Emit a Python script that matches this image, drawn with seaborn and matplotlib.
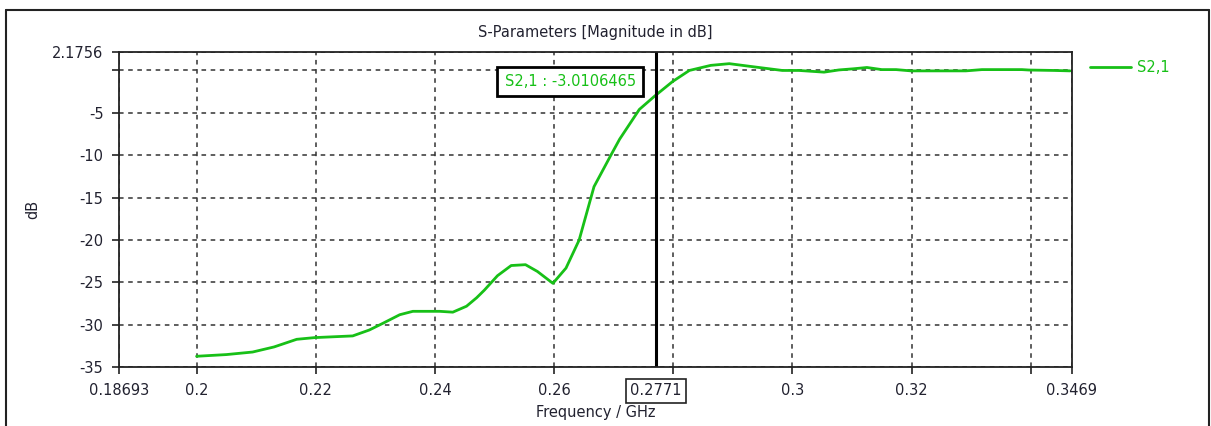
import matplotlib
matplotlib.use("Agg")
import matplotlib.pyplot as plt
import seaborn as sns
import numpy as np
import pandas as pd
from matplotlib.lines import Line2D

# ---- data ----
freq_ghz = [0.2000, 0.2050, 0.2094, 0.2130, 0.2168, 0.2198, 0.2230, 0.2262, 0.2290, 0.2313,
            0.2341, 0.2363, 0.2408, 0.2430, 0.2453, 0.2470, 0.2483, 0.2505, 0.2528, 0.2552,
            0.2572, 0.2598, 0.2620, 0.2642, 0.2667, 0.2696, 0.2710, 0.2743, 0.2769, 0.2799,
            0.2827, 0.2863, 0.2894, 0.2927, 0.2983, 0.3011, 0.3053, 0.3078, 0.3103, 0.3125,
            0.3150, 0.3174, 0.3199, 0.3291, 0.3318, 0.3385, 0.3397, 0.3439, 0.3466]
s21_db = [-33.7, -33.5, -33.2, -32.6, -31.7, -31.5, -31.4, -31.3, -30.6, -29.8,
          -28.8, -28.4, -28.4, -28.5, -27.8, -26.8, -25.9, -24.2, -23.0, -22.9,
          -23.7, -25.1, -23.3, -20.0, -13.7, -9.9, -8.1, -4.6, -3.01, -1.3,
          0.0, 0.6, 0.8, 0.5, 0.0, 0.0, -0.2, 0.06, 0.2, 0.35,
          0.1, 0.1, -0.05, -0.05, 0.1, 0.1, 0.05, 0.0, -0.05]

x_min, x_max = 0.18693, 0.3469
y_min, y_max = -35.0, 2.1756
x_ticks = [0.18693, 0.2, 0.22, 0.24, 0.26, 0.28, 0.3, 0.32, 0.34, 0.3469]
x_tick_labels = ["0.18693", "0.2", "0.22", "0.24", "0.26", "", "0.3", "0.32", "", "0.3469"]
y_ticks = [2.1756, 0, -5, -10, -15, -20, -25, -30, -35]
y_tick_labels = ["2.1756", "", "-5", "-10", "-15", "-20", "-25", "-30", "-35"]
marker_freq = 0.2771
marker_label = "0.2771"
marker_text = "S2,1 : -3.0106465"
series_name = "S2,1"
title = "S-Parameters [Magnitude in dB]"
xlabel = "Frequency / GHz"
ylabel = "dB"

df = pd.DataFrame({"freq": freq_ghz, "s21": s21_db})

# ---- style ----
sns.set_theme(style="white")
plt.rcParams["font.family"] = ["DejaVu Sans"]
txt_color = "#222230"
green = "#17c017"
fs = 10.5

W, H = 1211, 426
fig = plt.figure(figsize=(W / 100, H / 100), dpi=100)
ax_l, ax_r, ax_t, ax_b = 118.7, 1071.9, 52.0, 367.3
ax = fig.add_axes([ax_l / W, 1 - ax_b / H, (ax_r - ax_l) / W, (ax_b - ax_t) / H])

sns.lineplot(data=df, x="freq", y="s21", ax=ax, color=green, linewidth=2.0, label=series_name, legend=False)

ax.set_xlim(x_min, x_max)
ax.set_ylim(y_min, y_max)
ax.set_xticks(x_ticks)
ax.set_xticklabels(x_tick_labels)
ax.set_yticks(y_ticks)
ax.set_yticklabels(y_tick_labels)
ax.tick_params(axis="both", direction="out", length=5, width=1.2, color="#222222",
               labelsize=fs, labelcolor=txt_color, pad=6, bottom=True, left=True)

ax.grid(True, which="major", color="#333333", linestyle=(0, (3, 3)), linewidth=1.1)
for sp in ax.spines.values():
    sp.set_color("#222222")
    sp.set_linewidth(1.3)
    sp.set_zorder(5)

ax.set_xlabel(xlabel, fontsize=fs, color=txt_color)
ax.set_ylabel(ylabel, fontsize=fs, color=txt_color)
ax.xaxis.set_label_coords(0.5, (ax_b - 413) / (ax_b - ax_t), transform=ax.transAxes)
ax.xaxis.label.set_va("center")
ax.yaxis.set_label_coords((33 - ax_l) / (ax_r - ax_l), 0.5, transform=ax.transAxes)
ax.yaxis.label.set_va("center")
ax.set_title(title, fontsize=fs, color=txt_color, pad=11)

# marker line
ax.axvline(marker_freq, color="black", linewidth=2.2, zorder=4)
ax.text(marker_freq, -0.075, marker_label, transform=ax.get_xaxis_transform(),
        ha="center", va="center", fontsize=fs, color=txt_color,
        bbox=dict(boxstyle="square,pad=0.3", facecolor="white", edgecolor="#222222", linewidth=1.2))
ax.text(0.2627, -1.3, marker_text, ha="center", va="center", fontsize=fs, color=green,
        bbox=dict(boxstyle="square,pad=0.5", facecolor="white", edgecolor="black", linewidth=2.0),
        zorder=6)

# legend outside
handle = Line2D([0], [0], color=green, linewidth=2.0)
fig.legend([handle], [series_name], loc="center left",
           bbox_to_anchor=(1090 / W, 1 - 68 / H), frameon=False, fontsize=fs,
           labelcolor=green, handlelength=2.8, handletextpad=0.45, borderpad=0, borderaxespad=0)

# outer frame
fig.add_artist(Line2D([6 / W, 6 / W], [0, 1 - 10 / H], color="#222222", linewidth=1.5, transform=fig.transFigure))
fig.add_artist(Line2D([6 / W, 1209 / W], [1 - 10 / H, 1 - 10 / H], color="#222222", linewidth=1.5, transform=fig.transFigure))
fig.add_artist(Line2D([1209 / W, 1209 / W], [0, 1 - 10 / H], color="#222222", linewidth=1.5, transform=fig.transFigure))

fig.savefig("out.png", dpi=100, facecolor="white")
